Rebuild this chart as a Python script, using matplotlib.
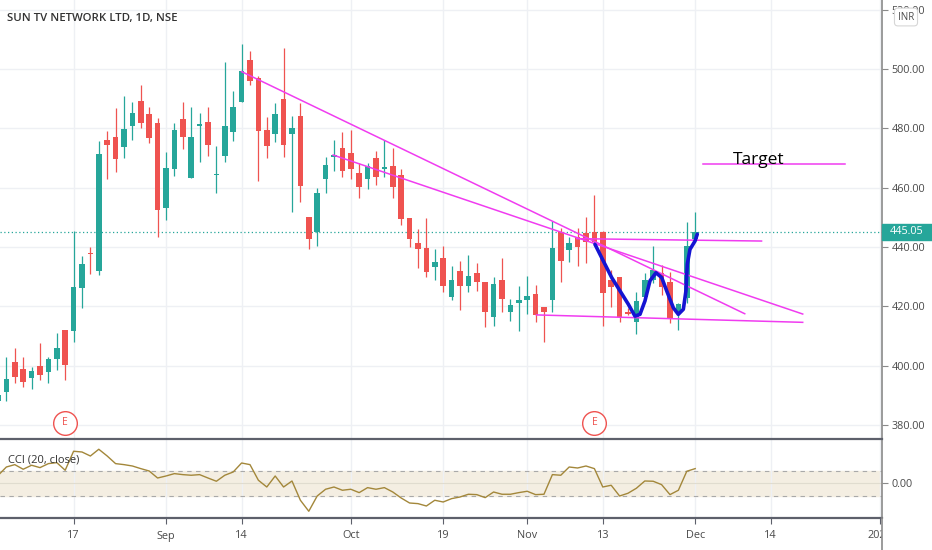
import matplotlib
matplotlib.use("Agg")
import matplotlib.pyplot as plt
import matplotlib.transforms as mtransforms
from matplotlib.patches import Rectangle
from matplotlib.lines import Line2D

plt.rcParams['font.family'] = ['Open Sans', 'DejaVu Sans']

# daily candles, SUN TV NETWORK LTD (NSE)
opens = [388.0, 391.0, 401.1, 398.9, 395.7, 400.0, 398.0, 402.1, 412.0, 411.8,
         426.3, 438.1, 432.0, 476.1, 476.9, 473.8, 480.9, 489.3, 484.8, 481.9,
         453.3, 466.3, 483.1, 463.1, 480.8, 482.2, 464.4, 470.8, 478.7, 489.0,
         503.0, 496.9, 479.4, 478.1, 489.9, 478.0, 484.2, 450.0, 445.2, 462.9,
         470.2, 473.3, 471.6, 465.1, 462.9, 469.9, 466.3, 467.4, 464.3, 449.7,
         441.2, 439.6, 433.4, 436.2, 423.0, 431.9, 426.9, 431.1, 428.1, 416.5,
         428.9, 418.2, 421.0, 422.1, 424.2, 419.9, 422.1, 445.2, 439.0, 443.3,
         444.6, 445.2, 445.2, 428.9, 430.0, 418.0, 414.8, 423.0, 428.9, 431.1,
         428.1, 417.6, 422.9, 442.6]
highs = [391.0, 403.0, 405.8, 402.8, 399.7, 407.8, 403.0, 411.1, 412.0, 445.4,
         437.0, 440.1, 475.7, 479.1, 486.7, 491.0, 488.7, 494.6, 487.3, 483.4,
         472.1, 481.9, 489.0, 487.1, 485.1, 487.1, 474.2, 502.2, 492.6, 508.3,
         506.1, 497.5, 483.7, 488.4, 507.0, 484.2, 488.4, 450.0, 460.0, 470.2,
         476.1, 478.7, 479.4, 468.2, 468.2, 472.5, 476.1, 473.3, 466.2, 449.7,
         446.0, 449.7, 439.2, 440.4, 433.6, 435.3, 437.3, 434.7, 428.1, 430.0,
         436.4, 422.5, 427.0, 430.2, 427.2, 419.9, 448.9, 446.5, 443.3, 446.3,
         450.2, 457.5, 445.5, 432.2, 430.0, 419.3, 424.7, 431.1, 440.3, 433.9,
         431.5, 421.2, 448.3, 451.7]
lows = [387.0, 388.1, 394.0, 392.9, 392.1, 395.2, 394.0, 398.5, 395.2, 408.1,
        419.3, 430.9, 430.6, 462.9, 465.2, 470.1, 476.1, 480.0, 475.2, 443.3,
        449.1, 464.0, 473.0, 463.1, 468.8, 470.8, 458.1, 468.8, 475.8, 489.0,
        494.6, 462.4, 469.9, 475.5, 470.4, 451.7, 455.3, 439.2, 440.3, 458.3,
        465.6, 463.7, 462.9, 456.4, 459.4, 460.9, 463.7, 456.4, 447.4, 440.1,
        432.8, 429.8, 428.9, 424.9, 422.1, 418.8, 424.9, 425.3, 412.9, 413.4,
        418.0, 415.2, 411.8, 417.4, 414.8, 407.9, 418.0, 428.3, 434.8, 433.7,
        434.5, 440.7, 413.4, 419.9, 414.8, 417.0, 410.6, 422.7, 427.8, 423.8,
        414.5, 412.0, 421.0, 442.3]
closes = [390.0, 395.5, 396.3, 394.4, 398.2, 396.9, 402.2, 405.8, 400.2, 426.4,
          434.3, 437.6, 471.3, 474.4, 469.6, 479.8, 485.3, 481.7, 476.6, 452.5,
          466.5, 479.4, 477.0, 477.0, 481.5, 474.4, 464.7, 480.8, 487.1, 499.4,
          496.0, 479.1, 474.0, 484.8, 474.4, 480.0, 460.6, 442.6, 458.1, 467.6,
          471.0, 465.7, 466.3, 460.3, 467.3, 463.5, 467.1, 460.1, 449.4, 442.6,
          439.3, 431.7, 435.1, 426.9, 428.9, 426.9, 430.3, 428.3, 418.0, 427.5,
          422.5, 420.4, 422.1, 423.5, 417.1, 418.0, 439.6, 435.3, 441.2, 440.1,
          441.8, 441.8, 424.6, 426.6, 416.5, 417.4, 421.9, 428.9, 432.2, 426.4,
          416.2, 420.8, 440.3, 445.05]

# CCI (20, close)
cci = [60, 128, 147, 110, 142, 123, 155, 163, 102, 254,
       248, 216, 270, 216, 155, 147, 136, 115, 96, 40,
       56, 75, 67, 62, 67, 40, 14, 62, 88, 160,
       147, 22, -32, 56, -32, 16, -138, -226, -104, -50,
       -32, -58, -50, -77, -37, -50, -37, -72, -120, -160,
       -165, -184, -138, -152, -125, -112, -90, -93, -117, -72,
       -90, -90, -77, -66, -93, -90, 67, 62, 128, 120,
       136, 115, -32, -18, -104, -82, -42, 16, 14, -13,
       -93, -58, 94, 115]

last_price = 445.05

# time scale (bar index of each date label)
date_ticks = [9, 20, 29, 42, 53, 63, 72, 83, 92, 105]
date_labels = ['17', 'Sep', '14', 'Oct', '19', 'Nov', '13', 'Dec', '14', '2021']
price_ticks = [380, 400, 420, 440, 460, 480, 500, 520]

# drawings: trend lines as (x0, y0, x1, y1) in bar index / price
trend_lines = [
    (29.0, 499.1, 88.9, 417.5),
    (39.9, 471.0, 95.8, 417.4),
    (68.9, 442.8, 90.9, 442.0),
    (64.1, 417.1, 95.8, 414.6),
    (83.9, 468.1, 100.8, 468.1),
]
w_x = [71.07, 72.06, 73.06, 74.05, 75.04, 75.83, 76.43, 77.02, 77.62, 78.33,
       79.01, 79.61, 80.4, 80.99, 81.59, 81.9, 82.06, 82.38, 82.98, 83.25]
w_y = [440.9, 435.3, 429.7, 425.2, 420.7, 416.7, 417.3, 421.8, 428.6, 431.3,
       429.7, 425.2, 419.5, 417.3, 419.0, 425.2, 434.2, 439.2, 442.0, 444.3]
earnings_idx = [8, 71]

UP = '#26a69a'
DOWN = '#ef5350'
GRID = '#eef0f4'
TXT = '#4a4a4a'

W, H = 932, 550
fig = plt.figure(figsize=(W / 100, H / 100), dpi=100)
fig.patch.set_facecolor('white')
ax = fig.add_axes([0, (H - 439) / H, 882 / W, 439 / H])
ax2 = fig.add_axes([0, (H - 518) / H, 882 / W, 79 / H], sharex=ax)

idx = list(range(len(opens)))
cols = [UP if c >= o else DOWN for o, c in zip(opens, closes)]
bottoms = [min(o, c) for o, c in zip(opens, closes)]
heights = [max(abs(c - o), 0.35) for o, c in zip(opens, closes)]

ax.vlines(idx, lows, highs, colors=cols, lw=0.9, zorder=3)
ax.bar(idx, heights, bottom=bottoms, width=0.68, color=cols, zorder=4)

ax.axhline(last_price, color=UP, lw=0.9, ls=(0, (1, 2)), zorder=2)

for x0, y0, x1, y1 in trend_lines:
    ax.plot([x0, x1], [y0, y1], color='#f03cf0', lw=1.1, zorder=5)
ax.plot(w_x, w_y, color='#1414d2', lw=2.6, solid_capstyle='round',
        solid_joinstyle='round', zorder=6)
ax.text(90.6, 469.4, 'Target', fontsize=12.5, color='black', ha='center',
        va='center', zorder=7)

ax.set_xlim(0.24, 105.24)
ax.set_ylim(375.28, 523.24)
ax.yaxis.tick_right()
ax.set_yticks(price_ticks)
ax.set_yticklabels(['%.2f' % p for p in price_ticks])
ax.set_xticks(date_ticks)
ax.tick_params(axis='x', length=0, labelbottom=False)
ax.tick_params(axis='y', length=4, color='#8a8a8a', labelcolor=TXT,
               labelsize=7.8, pad=3)
ax.grid(True, color=GRID, lw=1)
ax.set_axisbelow(True)
for s in ['top', 'left', 'bottom']:
    ax.spines[s].set_visible(False)
ax.spines['right'].set_color('#8a8a8a')
ax.spines['right'].set_linewidth(1.2)

# earnings markers
ey = [380.8] * len(earnings_idx)
ax.scatter(earnings_idx, ey, s=290, facecolor='white', edgecolor=DOWN,
           lw=1.0, zorder=6, clip_on=False)
for e in earnings_idx:
    ax.text(e, 380.8, 'E', color=DOWN, fontsize=7.5, ha='center',
            va='center', zorder=7)

# last price label on the scale
tr = mtransforms.blended_transform_factory(ax.transAxes, ax.transData)
ax.add_patch(Rectangle((1.0, last_price - 2.7), 50 / 882, 5.4, transform=tr,
                       color=UP, clip_on=False, zorder=10))
ax.text(1.0 + 25 / 882, last_price, '%.2f' % last_price, transform=tr,
        color='white', fontsize=7.8, ha='center', va='center', zorder=11)

fig.text(7 / W, 1 - 18 / H, 'SUN TV NETWORK LTD, 1D, NSE', fontsize=8.2,
         fontweight='semibold', color='#333333', va='center', ha='left')
fig.text(906 / W, 1 - 17 / H, 'INR', fontsize=7, color=TXT, ha='center',
         va='center', zorder=20,
         bbox=dict(boxstyle='round,pad=0.35', fc='white', ec='#d6d6d6', lw=0.8))

# CCI pane
ax2.axhspan(-100, 100, color='#f4eee2', zorder=0)
ax2.axhline(100, color='#a9a9a9', lw=0.8, ls=(0, (4, 4)), zorder=1)
ax2.axhline(-100, color='#a9a9a9', lw=0.8, ls=(0, (4, 4)), zorder=1)
ax2.axhline(0, color='#e0dccf', lw=0.8, zorder=1)
ax2.plot(idx, cci, color='#a3873a', lw=1.0, zorder=3)
ax2.set_ylim(-280, 352)
ax2.yaxis.tick_right()
ax2.set_yticks([0])
ax2.set_yticklabels(['0.00'])
ax2.set_xticks(date_ticks)
ax2.set_xticklabels(date_labels)
ax2.tick_params(axis='y', length=4, color='#8a8a8a', labelcolor=TXT,
                labelsize=7.8, pad=3)
ax2.tick_params(axis='x', length=4, color='#5d606b', labelcolor=TXT,
                labelsize=7.8, pad=5)
ax2.grid(True, axis='x', color=GRID, lw=1)
ax2.set_axisbelow(True)
ax2.spines['left'].set_visible(False)
for s in ['top', 'bottom']:
    ax2.spines[s].set_color('#5d606b')
    ax2.spines[s].set_linewidth(1.6)
ax2.spines['right'].set_color('#8a8a8a')
ax2.spines['right'].set_linewidth(1.2)
ax2.text(0.009, 0.73, 'CCI (20, close)', transform=ax2.transAxes,
         fontsize=8, color='#333333', va='center', ha='left')

# time scale stops at the price scale
fig.add_artist(Rectangle((882 / W, 0), 50 / W, 31 / H, transform=fig.transFigure,
                         color='white', zorder=5))
fig.add_artist(Line2D([882 / W, 882 / W], [0, 32 / H], transform=fig.transFigure,
                      color='#8a8a8a', lw=1.2, zorder=6))

fig.savefig('out.png', dpi=100)
